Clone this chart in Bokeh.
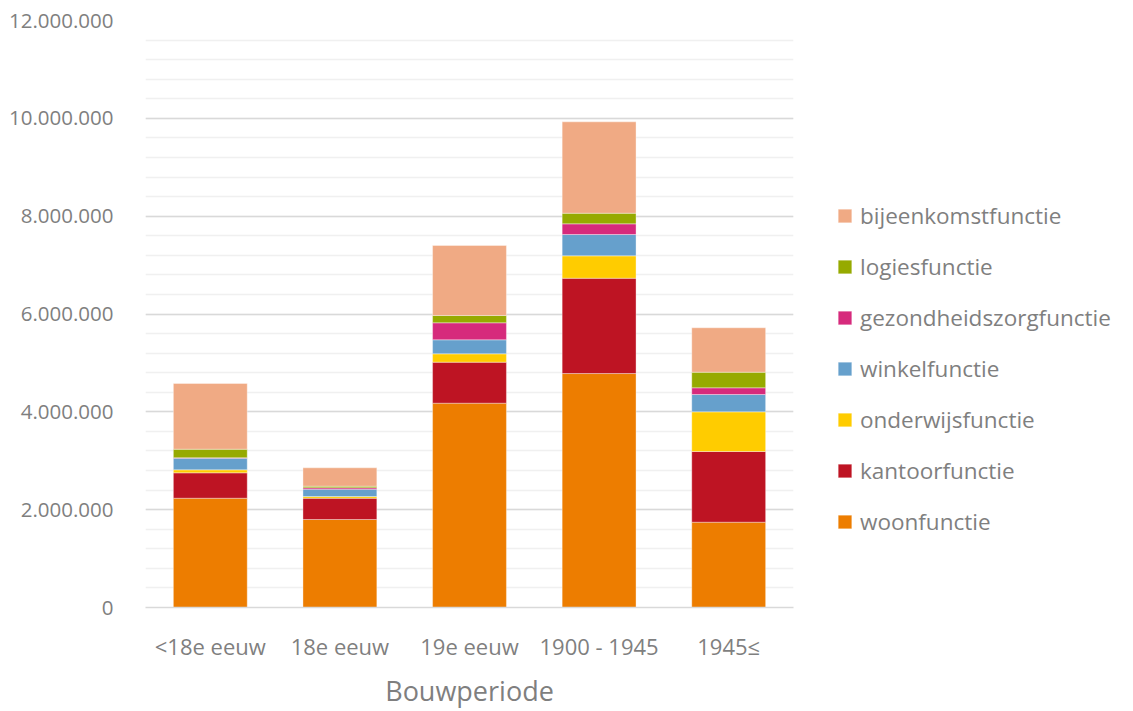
from bokeh.plotting import figure
from bokeh.models import FactorRange, Legend, LegendItem, SingleIntervalTicker
from bokeh.embed import file_html
from bokeh.resources import INLINE

periods = ["<18e eeuw", "18e eeuw", "19e eeuw", "1900 - 1945", "1945\u2264"]
woonfunctie = [2234000, 1799000, 4177000, 4783000, 1744000]
kantoorfunctie = [519000, 435000, 838000, 1948000, 1445000]
onderwijsfunctie = [62000, 35000, 171000, 458000, 811000]
winkelfunctie = [237000, 149000, 286000, 436000, 354000]
gezondheidszorgfunctie = [10000, 29000, 348000, 218000, 137000]
logiesfunctie = [174000, 33000, 149000, 217000, 319000]
bijeenkomstfunctie = [1343000, 375000, 1431000, 1868000, 908000]

series = ["woonfunctie", "kantoorfunctie", "onderwijsfunctie", "winkelfunctie",
          "gezondheidszorgfunctie", "logiesfunctie", "bijeenkomstfunctie"]
colors = ["#ED7D00", "#BE1423", "#FFCC00", "#66A0CC", "#D62A7C", "#96AA00", "#F0AA84"]

y_ticks = [0, 2000000, 4000000, 6000000, 8000000, 10000000, 12000000]
y_tick_labels = ["0", "2.000.000", "4.000.000", "6.000.000", "8.000.000", "10.000.000", "12.000.000"]

data = dict(period=periods, woonfunctie=woonfunctie, kantoorfunctie=kantoorfunctie,
            onderwijsfunctie=onderwijsfunctie, winkelfunctie=winkelfunctie,
            gezondheidszorgfunctie=gezondheidszorgfunctie, logiesfunctie=logiesfunctie,
            bijeenkomstfunctie=bijeenkomstfunctie)

FONT = "Open Sans"
TXT = "#7f7f7f"

p = figure(x_range=FactorRange(*periods, range_padding=0), y_range=(0, 12000000),
           frame_width=648, frame_height=587, output_backend="svg", toolbar_location=None,
           min_border_left=145, min_border_right=0, min_border_top=20, min_border_bottom=104)
p.outline_line_color = None

renderers = p.vbar_stack(series, x="period", width=0.57, color=colors, source=data,
                         line_color="white", line_width=0.6, line_alpha=0.6)

ticker = SingleIntervalTicker(interval=2000000, num_minor_ticks=5)
p.yaxis.ticker = ticker
p.ygrid.ticker = ticker
p.yaxis.major_label_overrides = {t: l for t, l in zip(y_ticks, y_tick_labels)}
p.ygrid.grid_line_color = "#d9d9d9"
p.ygrid.grid_line_width = 1.3
p.ygrid.minor_grid_line_color = "#f0f0f0"
p.ygrid.minor_grid_line_width = 1.3
p.xgrid.grid_line_color = None

p.yaxis.axis_line_color = None
p.yaxis.major_tick_line_color = None
p.yaxis.minor_tick_line_color = None
p.yaxis.major_label_standoff = 26
p.yaxis.major_label_text_font = FONT
p.yaxis.major_label_text_font_size = "20.5px"
p.yaxis.major_label_text_color = TXT

p.xaxis.axis_line_color = "#d9d9d9"
p.xaxis.axis_line_width = 1.3
p.xaxis.major_tick_line_color = None
p.xaxis.minor_tick_line_color = None
p.xaxis.major_label_standoff = 17
p.xaxis.major_label_text_font = FONT
p.xaxis.major_label_text_font_size = "22px"
p.xaxis.major_label_text_color = TXT
p.xaxis.axis_label = "Bouwperiode"
p.xaxis.axis_label_text_font = FONT
p.xaxis.axis_label_text_font_size = "27px"
p.xaxis.axis_label_text_font_style = "normal"
p.xaxis.axis_label_text_color = TXT
p.xaxis.axis_label_standoff = 8

items = [LegendItem(label=s, renderers=[r]) for s, r in zip(series, renderers)]
items.reverse()
legend = Legend(items=items, location=(43, 70))
legend.border_line_color = None
legend.background_fill_alpha = 0
legend.label_text_font = FONT
legend.label_text_font_size = "22.5px"
legend.label_text_color = TXT
legend.glyph_width = 17
legend.glyph_height = 17
legend.label_standoff = 7
legend.spacing = 20
legend.padding = 0
legend.margin = 0
p.add_layout(legend, "right")

open("out.html", "w").write(file_html(p, INLINE))
